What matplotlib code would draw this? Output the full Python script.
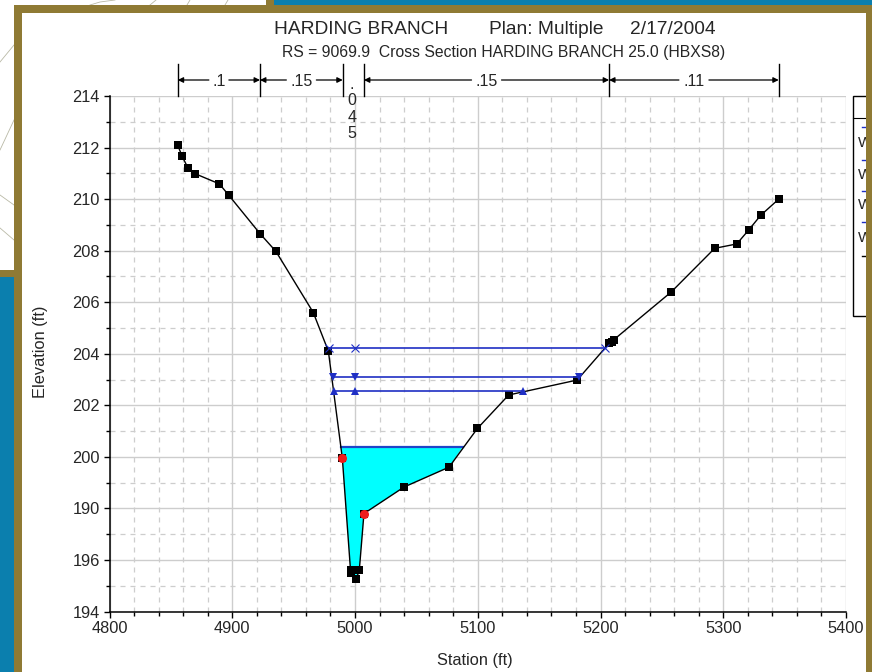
import matplotlib
matplotlib.use("Agg")
import matplotlib.pyplot as plt
from matplotlib.patches import Rectangle
from matplotlib.transforms import blended_transform_factory

plt.rcParams['font.family'] = ['Liberation Sans', 'DejaVu Sans']

# ground profile
station = [4855.6, 4859, 4864, 4870, 4889.5, 4897, 4922.6, 4935.6, 4966, 4978.3, 4989.7,
           4996.5, 4997, 5001, 5003.5, 5007.3, 5040, 5076.6, 5099.7, 5125.2, 5181,
           5207, 5209, 5211, 5257.7, 5293, 5311, 5320.7, 5330.5, 5345.2]
elevation = [212.09, 211.68, 211.2, 210.98, 210.59, 210.16, 208.66, 207.97, 205.6, 204.1, 199.94,
             195.5, 195.6, 195.26, 195.6, 197.8, 198.83, 199.6, 201.1, 202.4, 202.98,
             204.4, 204.47, 204.55, 206.4, 208.09, 208.26, 208.8, 209.37, 210.0]

# water surfaces: left, middle, right
ws1_x = [4978.5, 5000, 5203.7]
ws1_y = [204.21, 204.21, 204.21]
ws2_x = [4981.8, 5000, 5182.7]
ws2_y = [203.1, 203.1, 203.1]
ws3_x = [4983, 5000, 5137]
ws3_y = [202.54, 202.54, 202.54]

# filled low flow
fill_x = [4988.7, 4989.7, 4996.5, 5001, 5003.5, 5007.3, 5040, 5076.6, 5087.7]
fill_y = [200.38, 199.94, 195.5, 195.26, 195.6, 197.8, 198.83, 199.6, 200.38]

# bank stations
red_x = [4989.7, 5007.3]
red_y = [199.94, 197.8]

n_breaks = [4855.6, 4922.6, 4990, 5007.3, 5207, 5345.2]
n_labels = ['.1', '.15', None, '.15', '.11']

x_ticks = [4800, 4900, 5000, 5100, 5200, 5300, 5400]
y_ticks = [194, 196, 198, 200, 202, 204, 206, 208, 210, 212, 214]
y_labels = ['194', '196', '190', '200', '202', '204', '206', '208', '210', '212', '214']

W, H = 872, 672
GOLD = '#8f7a34'
BLUE = '#0b7fae'
WS = '#1f2fc4'
TXT = '#262626'


def px(x, y, w, h):
    # rectangle in picture pixels, top left origin
    return (x / W, 1 - (y + h) / H), w / W, h / H


def panel(fig, x, y, w, h, color, z=0):
    xy, fw, fh = px(x, y, w, h)
    fig.add_artist(Rectangle(xy, fw, fh, transform=fig.transFigure, facecolor=color,
                             edgecolor='none', zorder=z))


fig = plt.figure(figsize=(W / 100, H / 100), dpi=100, facecolor='white')

# slide background
panel(fig, 0, 277, 14, 395, BLUE)
panel(fig, 274, 0, 598, 5, BLUE)
panel(fig, 0, 270, 14, 7, GOLD)
panel(fig, 266, 0, 8, 5, GOLD)
panel(fig, 14, 5, 858, 8, GOLD, z=5)
panel(fig, 14, 5, 8, 667, GOLD, z=5)
panel(fig, 866, 5, 6, 667, GOLD, z=5)

# contour scraps of the map behind
for cx, cy in [([0, 14], [62, 45]), ([0, 14], [150, 120]), ([0, 14], [195, 205]),
               ([0, 14], [228, 240]), ([90, 100, 115], [5, 2, 0]), ([150, 156], [5, 0]),
               ([187, 190], [5, 0]), ([225, 228], [5, 0])]:
    fig.add_artist(plt.Line2D([v / W for v in cx], [1 - v / H for v in cy],
                              color='#b9b9a6', lw=0.6, zorder=1))

ax = fig.add_axes([109.5 / W, 1 - 611.5 / H, (846 - 109.5) / W, (611.5 - 96) / H])
ax.set_xlim(4800, 5400)
ax.set_ylim(194, 214)
ax.set_facecolor('white')

ax.set_xticks(x_ticks)
ax.set_xticks(range(4800, 5401, 20), minor=True)
ax.set_yticks(y_ticks)
ax.set_yticklabels(y_labels)
ax.set_yticks(range(194, 215), minor=True)
ax.grid(which='major', color='#cdcdcd', lw=1.0)
ax.grid(which='minor', color='#cdcdcd', lw=0.9, ls=(0, (4, 4)))
ax.set_axisbelow(True)
ax.tick_params(which='major', length=4, width=1, labelsize=11.8, color='black', pad=3, labelcolor=TXT)
ax.tick_params(which='minor', length=3, width=1, color='black')
for s in ['top', 'right']:
    ax.spines[s].set_visible(False)
for s in ['left', 'bottom']:
    ax.spines[s].set_linewidth(1.1)

ax.fill(fill_x, fill_y, color='#00ffff', lw=0, zorder=2)
ax.plot(fill_x[0::len(fill_x) - 1], fill_y[0::len(fill_y) - 1], color='#1f45c8', lw=1.6, zorder=3)
ax.plot(station, elevation, color='black', lw=1, marker='s', ms=5.8, mew=0, zorder=3.5)
ax.plot(ws1_x, ws1_y, color=WS, lw=1.2, marker='x', ms=5.5, mew=0.8, zorder=4)
ax.plot(ws2_x, ws2_y, color=WS, lw=1.2, marker='v', ms=6, mew=0, zorder=4)
ax.plot(ws3_x, ws3_y, color=WS, lw=1.2, marker='^', ms=6, mew=0, zorder=4)
ax.plot(red_x, red_y, ls='none', marker='o', color='#ee1c1c', ms=6.5, mew=0, zorder=5)

ax.set_xlabel('Station (ft)', fontsize=11.8, color=TXT)
ax.xaxis.set_label_coords((475 - 109.5) / (846 - 109.5), -(660 - 611.5) / (611.5 - 96))
ax.xaxis.label.set_verticalalignment('center')
ax.set_ylabel('Elevation (ft)', fontsize=11.8, color=TXT)
ax.yaxis.set_label_coords((40 - 109.5) / (846 - 109.5), (611.5 - 352) / (611.5 - 96))
ax.yaxis.label.set_verticalalignment('center')

# roughness bars above the plot
tr = blended_transform_factory(ax.transData, ax.transAxes)
bar_top = 1 + 32 / 515.5
arrow_y = 1 + 16 / 515.5
label_y = 1 + 14 / 515.5
for b in n_breaks:
    ax.plot([b, b], [1, bar_top], transform=tr, color='black', lw=1, clip_on=False, zorder=6)
for i, lab in enumerate(n_labels):
    if lab is None:
        continue
    a, b = n_breaks[i], n_breaks[i + 1]
    mid = (a + b) / 2
    gap_d = 5 * len(lab) / 1.2275
    ax.annotate('', xy=(a, arrow_y), xytext=(mid - gap_d, arrow_y), xycoords=tr, textcoords=tr,
                arrowprops=dict(arrowstyle='-|>', color='black', lw=0.9, shrinkA=0, shrinkB=0, mutation_scale=8))
    ax.annotate('', xy=(b, arrow_y), xytext=(mid + gap_d, arrow_y), xycoords=tr, textcoords=tr,
                arrowprops=dict(arrowstyle='-|>', color='black', lw=0.9, shrinkA=0, shrinkB=0, mutation_scale=8))
    ax.text(mid, label_y, lab, transform=tr, ha='center', va='center', fontsize=11.5, color=TXT)
fig.text(352 / W, 1 - 109 / H, '.\n0\n4\n5', ha='center', va='center', fontsize=11.5,
         color=TXT, linespacing=1.1, zorder=6)

# titles
fig.text(274 / W, 1 - 29.5 / H, 'HARDING BRANCH', ha='left', va='center', fontsize=13.8, color=TXT)
fig.text(489 / W, 1 - 29.5 / H, 'Plan: Multiple', ha='left', va='center', fontsize=13.8, color=TXT)
fig.text(630 / W, 1 - 29.5 / H, '2/17/2004', ha='left', va='center', fontsize=13.8, color=TXT)
fig.text(282 / W, 1 - 52.5 / H, 'RS = 9069.9  Cross Section HARDING BRANCH 25.0 (HBXS8)',
         ha='left', va='center', fontsize=11.3, color=TXT)

# legend box, cut off by the slide border
xy, fw, fh = px(853, 96, 40, 220)
fig.add_artist(Rectangle(xy, fw, fh, transform=fig.transFigure, facecolor='white',
                         edgecolor='black', lw=1, zorder=3))
fig.add_artist(plt.Line2D([853 / W, 866 / W], [1 - 118 / H] * 2, color='black', lw=0.8, zorder=3))
for yy, c in [(127, WS), (160, WS), (191, WS), (222, WS), (256, 'black')]:
    fig.add_artist(plt.Line2D([862 / W, 868 / W], [1 - yy / H] * 2, color=c, lw=1, zorder=3))
for yy in [143, 175, 205, 238]:
    fig.text(858 / W, 1 - yy / H, 'W', ha='left', va='center', fontsize=11, color=TXT, zorder=3)

fig.savefig('out.png', dpi=100, facecolor='white')
